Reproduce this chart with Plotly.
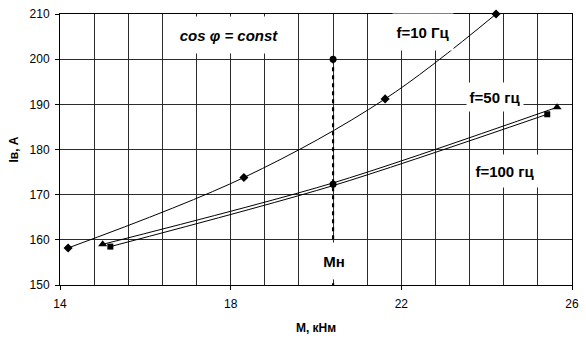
import plotly.graph_objects as go

# Excitation current Iв versus torque M at constant cos φ
M_f10 = [14.19, 18.31, 21.62, 24.22]
I_f10 = [158.2, 173.8, 191.2, 210.0]

M_f50 = [15.0, 20.4, 25.65]
I_f50 = [159.0, 172.6, 189.35]

M_f100 = [15.18, 20.4, 25.42]
I_f100 = [158.5, 172.0, 187.8]

# nominal torque Mн marker line
M_nom = [20.4, 20.4]
I_nom_line = [200.0, 150.0]
I_nom_marks = [200.0, 172.3]

x_ticks = [14, 18, 22, 26]
y_ticks = [150, 160, 170, 180, 190, 200, 210]

FONT = "Liberation Sans, Arial, sans-serif"
INK = "#000000"
GRID = "#2b2b2b"

fig = go.Figure()

fig.add_trace(go.Scatter(
    x=M_f10, y=I_f10, mode="lines+markers", cliponaxis=False,
    line=dict(color=INK, width=1, shape="spline", smoothing=1.0),
    marker=dict(symbol="diamond", size=7, color=INK),
    name="f=10 Гц", showlegend=False))

# middle points of the 50/100 Hz curves carry no marker of their own
fig.add_trace(go.Scatter(
    x=M_f50, y=I_f50, mode="lines+markers", cliponaxis=False,
    line=dict(color=INK, width=1, shape="spline", smoothing=0.8),
    marker=dict(symbol="triangle-up", size=8, color=INK, opacity=[1, 0, 1]),
    name="f=50 гц", showlegend=False))

fig.add_trace(go.Scatter(
    x=M_f100, y=I_f100, mode="lines+markers",
    line=dict(color=INK, width=1, shape="spline", smoothing=0.8),
    marker=dict(symbol="square", size=6, color=INK, opacity=[1, 0, 1]),
    name="f=100 гц", showlegend=False))

fig.add_trace(go.Scatter(
    x=M_nom, y=I_nom_line, mode="lines",
    line=dict(color=INK, width=2.2, dash="4px,4px"),
    showlegend=False))

fig.add_trace(go.Scatter(
    x=M_nom, y=I_nom_marks, mode="markers",
    marker=dict(symbol="circle", size=7, color=INK),
    showlegend=False))

label_font = dict(family=FONT, size=15, color=INK)


def boxed(text, x, y, w, h, italic=False):
    t = f"<b><i>{text}</i></b>" if italic else f"<b>{text}</b>"
    fig.add_annotation(
        x=x, y=y, xref="x", yref="y", text=t, showarrow=False,
        width=w, height=h, bgcolor="white", borderpad=0,
        align="center", valign="middle", font=label_font)


boxed("cos φ = const", 17.95, 205.3, 118, 36, italic=True)
boxed("f=10 Гц", 22.5, 206.1, 60, 36)
boxed("f=50 гц", 24.19, 191.7, 56, 28)
boxed("f=100 гц", 24.42, 175.2, 68, 32)
boxed("Мн", 20.43, 155.3, 38, 36)

fig.update_xaxes(
    range=[14, 26], tickvals=x_ticks, ticktext=[str(v) for v in x_ticks],
    showgrid=True, gridcolor=GRID, gridwidth=1,
    minor=dict(dtick=0.8, tick0=14, showgrid=True, gridcolor=GRID, gridwidth=1),
    showline=True, linecolor=INK, linewidth=1, mirror=True,
    ticks="outside", ticklen=4, tickcolor=INK, ticklabelstandoff=4,
    tickfont=dict(family=FONT, size=12, color=INK),
    zeroline=False,
    title=dict(text="<b>M, кНм</b>", font=dict(family=FONT, size=12, color=INK), standoff=13))

fig.update_yaxes(
    range=[150, 210], tickvals=y_ticks,
    showgrid=True, gridcolor=GRID, gridwidth=1,
    showline=True, linecolor=INK, linewidth=1, mirror=True,
    ticks="outside", ticklen=4, tickcolor=INK, ticklabelstandoff=3,
    tickfont=dict(family=FONT, size=12, color=INK),
    zeroline=False,
    title=dict(text="<b>Iв, A</b>", font=dict(family=FONT, size=12, color=INK), standoff=8))

fig.update_layout(
    width=586, height=340,
    margin=dict(l=60, r=7, t=12, b=52),
    paper_bgcolor="white", plot_bgcolor="white",
    font=dict(family=FONT, color=INK),
    showlegend=False)

fig.write_html("out.html")
